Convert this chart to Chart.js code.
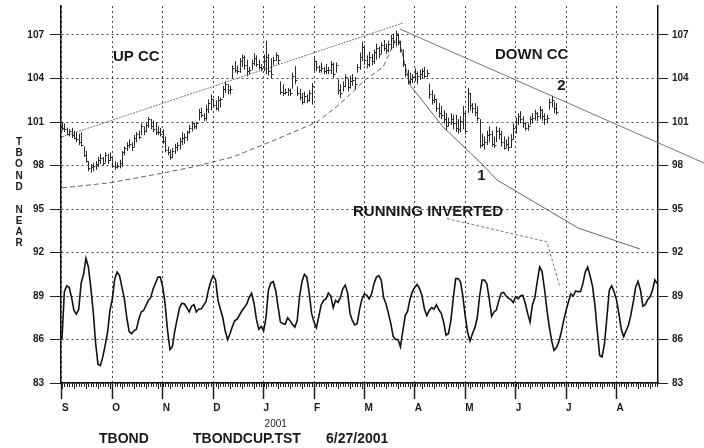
<!DOCTYPE html>
<html>
<head>
<meta charset="utf-8">
<title>TBOND</title>
<script src="https://cdn.jsdelivr.net/npm/chart.js@4.4.0/dist/chart.umd.min.js"></script>
<style>
    html, body { margin: 0; padding: 0; background: #fff; }
    #wrap { width: 704px; height: 448px; }
</style>
</head>
<body>
<div id="wrap"><canvas id="chartTbond" width="704" height="448"></canvas></div>
<script>
// AXIS DATA (x = trading day since start of Sep 2000)
var monthLabels = ["S", "O", "N", "D", "J", "F", "M", "A", "M", "J", "J", "A"];
var monthDays = [0, 21, 42, 63, 84, 105, 126, 147, 168, 189, 210, 231];
var priceTicks = [83, 86, 89, 92, 95, 98, 101, 104, 107];

// DAILY PRICE BARS (high / low / close)
var barHigh = [101.0, 100.9, 100.6, 100.5, 100.6, 100.4, 100.3, 100.2, 100.3, 99.3,
    99.0, 98.3, 98.1, 98.2, 98.3, 98.6, 98.8, 98.6, 98.9, 98.8,
    98.9, 98.5, 98.3, 98.2, 98.4, 99.0, 99.3, 99.6, 99.8, 99.6,
    100.1, 100.3, 100.4, 100.9, 100.7, 101.0, 101.35, 101.2, 101.1, 101.0,
    100.7, 100.6, 100.5, 100.0, 99.3, 99.1, 99.2, 99.5, 99.6, 99.9,
    100.3, 100.2, 100.4, 100.8, 101.05, 100.95, 101.0, 101.9, 102.0, 101.6,
    102.2, 102.55, 102.9, 102.6, 102.5, 102.8, 102.7, 103.5, 103.8, 103.6,
    103.5, 104.9, 105.2, 104.9, 105.4, 105.65, 105.6, 105.3, 104.8, 105.3,
    105.75, 105.6, 105.3, 105.0, 105.65, 106.6, 105.7, 105.4, 105.5, 105.8,
    105.6, 103.8, 103.6, 103.3, 103.35, 103.3, 104.4, 104.85, 103.45, 103.3,
    103.0, 103.1, 102.9, 103.2, 103.7, 105.4, 105.2, 104.9, 105.1, 104.8,
    105.0, 104.8, 105.2, 105.1, 105.1, 103.95, 103.6, 103.8, 104.3, 104.0,
    104.2, 104.3, 104.1, 105.0, 105.8, 106.55, 106.3, 105.6, 105.85, 105.7,
    106.0, 106.4, 106.2, 106.5, 106.65, 106.4, 106.6, 107.0, 107.1, 107.3,
    107.1, 106.6, 106.0, 105.0, 104.6, 104.4, 104.3, 104.7, 104.5, 104.6,
    104.7, 104.8, 104.6, 103.65, 103.2, 102.9, 102.6, 102.3, 102.1, 101.8,
    101.6, 101.3, 101.6, 101.5, 101.5, 101.2, 101.4, 102.1, 101.8, 103.35,
    103.0, 102.3, 102.3, 102.1, 101.2, 100.2, 100.0, 100.4, 100.7, 100.4,
    100.0, 100.7, 100.6, 100.4, 100.0, 99.8, 100.0, 100.15, 100.9, 101.3,
    101.6, 101.75, 101.4, 101.0, 100.9, 101.4, 101.6, 101.85, 101.7, 102.1,
    101.9, 101.6, 101.5, 102.6, 102.8, 102.4, 102.3];
var barLow = [100.4, 100.3, 100.1, 100.0, 99.9, 99.8, 99.6, 99.4, 99.3, 98.6,
    98.2, 97.6, 97.5, 97.6, 97.7, 97.9, 98.1, 98.0, 98.2, 98.1,
    98.3, 97.9, 97.7, 97.8, 97.8, 97.9, 98.7, 99.0, 99.2, 99.0,
    99.3, 99.6, 99.8, 100.1, 100.1, 100.3, 100.6, 100.5, 100.3, 100.1,
    100.1, 100.0, 99.5, 98.9, 98.7, 98.4, 98.5, 98.8, 99.0, 99.1,
    99.4, 99.5, 99.7, 100.2, 100.35, 100.5, 100.5, 101.1, 101.3, 101.05,
    101.1, 101.6, 101.8, 102.0, 101.8, 101.75, 102.0, 102.65, 103.0, 102.9,
    102.9, 104.0, 104.4, 104.3, 104.4, 104.8, 104.6, 104.15, 104.3, 104.6,
    104.9, 104.8, 104.6, 104.5, 104.5, 104.3, 104.2, 104.0, 104.9, 105.2,
    105.0, 102.9, 102.8, 102.9, 102.8, 102.8, 103.3, 103.6, 102.8, 102.5,
    102.2, 102.3, 102.3, 102.4, 102.2, 104.4, 104.5, 104.4, 104.4, 104.3,
    104.3, 104.3, 104.3, 104.05, 104.4, 102.9, 102.65, 103.1, 103.4, 103.1,
    103.3, 103.5, 103.25, 104.4, 104.6, 105.2, 104.95, 104.7, 104.8, 104.9,
    105.0, 105.3, 105.4, 105.7, 105.9, 105.7, 105.8, 106.0, 106.1, 106.2,
    106.3, 105.8, 104.8, 104.1, 103.6, 103.6, 103.7, 103.8, 103.6, 103.9,
    104.0, 104.0, 104.1, 102.6, 102.2, 102.3, 101.7, 101.3, 101.2, 100.9,
    100.45, 100.7, 100.8, 100.5, 100.3, 100.2, 100.3, 100.5, 100.15, 101.6,
    101.8, 101.6, 101.4, 101.05, 99.2, 99.3, 99.1, 99.4, 99.6, 99.3,
    99.2, 99.6, 99.8, 99.3, 99.1, 99.2, 99.0, 99.2, 99.8, 100.2,
    100.8, 100.9, 100.6, 100.4, 100.4, 100.8, 100.9, 101.1, 101.05, 101.2,
    101.1, 100.8, 100.9, 101.85, 102.0, 101.6, 101.5];
var barClose = [100.6, 100.5, 100.2, 100.4, 100.1, 99.9, 99.8, 99.6, 99.4, 98.7,
    98.3, 97.8, 97.9, 98.0, 98.1, 98.4, 98.5, 98.2, 98.7, 98.4,
    98.6, 98.0, 97.9, 98.0, 98.2, 98.9, 99.2, 99.4, 99.5, 99.3,
    99.9, 100.2, 100.0, 100.7, 100.4, 100.8, 101.2, 100.7, 100.5, 100.3,
    100.3, 100.2, 99.7, 99.1, 98.9, 98.6, 99.0, 99.3, 99.4, 99.7,
    99.9, 100.0, 100.3, 100.6, 100.9, 100.7, 100.9, 101.7, 101.5, 101.3,
    101.9, 102.3, 102.6, 102.2, 102.0, 102.5, 102.6, 103.3, 103.6, 103.2,
    103.3, 104.7, 104.6, 104.5, 105.2, 105.5, 104.9, 104.5, 104.6, 105.1,
    105.4, 105.0, 104.8, 104.7, 105.2, 105.5, 104.5, 104.3, 105.3, 105.6,
    105.3, 103.1, 103.0, 103.1, 103.2, 103.0, 104.2, 103.9, 103.0, 102.7,
    102.4, 102.8, 102.5, 103.0, 103.5, 105.2, 104.8, 104.6, 104.7, 104.5,
    104.6, 104.6, 105.0, 104.3, 104.9, 103.2, 103.0, 103.5, 104.1, 103.4,
    103.8, 103.9, 103.6, 104.8, 105.5, 106.2, 105.3, 105.0, 105.5, 105.2,
    105.8, 106.1, 105.7, 106.3, 106.1, 106.0, 106.4, 106.8, 106.5, 107.0,
    106.5, 106.0, 105.0, 104.3, 103.8, 104.0, 104.1, 104.4, 104.2, 104.3,
    104.5, 104.2, 104.4, 102.9, 102.5, 102.6, 102.0, 101.6, 101.5, 101.2,
    100.7, 101.0, 101.2, 100.9, 100.6, 100.5, 101.1, 101.6, 100.4, 103.0,
    102.2, 102.0, 101.7, 101.3, 99.4, 99.5, 99.6, 100.1, 100.2, 99.5,
    99.4, 100.4, 100.2, 99.6, 99.2, 99.5, 99.3, 99.8, 100.6, 101.0,
    101.4, 101.2, 100.9, 100.6, 100.7, 101.2, 101.3, 101.6, 101.4, 101.8,
    101.4, 101.2, 101.3, 102.4, 102.5, 102.0, 101.7];

// OSCILLATOR (one value per trading day, runs to the right edge)
var oscValues = [86.0, 89.3, 89.7, 89.6, 88.9, 88.0, 87.75, 88.1, 89.9, 90.5,
    91.6, 91.0, 89.6, 88.0, 85.8, 84.3, 84.2, 84.8, 85.6, 86.5,
    88.0, 88.8, 90.2, 90.65, 90.4, 89.6, 88.8, 87.5, 86.55, 86.4,
    86.6, 86.7, 87.4, 87.9, 88.0, 88.35, 88.7, 88.9, 89.5, 89.9,
    90.3, 90.3, 89.6, 88.4, 86.6, 85.3, 85.5, 86.6, 87.4, 88.2,
    88.5, 88.45, 88.2, 87.9, 88.3, 88.4, 87.9, 88.1, 88.1, 88.35,
    88.6, 89.4, 90.0, 90.4, 90.1, 88.7, 88.1, 87.5, 86.6, 86.0,
    86.4, 86.9, 87.3, 87.4, 87.7, 88.0, 88.2, 88.45, 88.9, 89.2,
    88.5, 87.4, 86.7, 86.9, 86.6, 87.5, 89.4, 89.9, 90.0, 89.4,
    88.3, 87.2, 87.1, 87.05, 87.5, 87.3, 87.05, 86.85, 87.3, 89.0,
    90.0, 90.5, 90.3, 89.2, 87.8, 87.2, 86.8, 87.6, 88.4, 88.7,
    88.8, 89.2, 89.0, 88.2, 88.7, 88.55, 88.9, 89.5, 89.75, 89.2,
    87.8, 87.3, 87.0, 87.1, 88.1, 88.8, 89.15, 89.05, 88.8, 89.15,
    89.85, 90.3, 90.4, 90.1, 88.9, 88.45, 87.8, 87.1, 86.2, 86.0,
    86.0, 85.5, 86.6, 87.65, 87.95, 88.8, 89.3, 89.6, 89.8, 89.5,
    89.0, 88.1, 87.65, 88.0, 88.2, 88.1, 88.4, 88.05, 87.8, 87.2,
    86.3, 86.4, 87.3, 88.8, 90.2, 90.2, 90.0, 89.0, 87.6, 86.5,
    85.9, 86.4, 86.8, 87.5, 89.0, 90.1, 90.1, 89.85, 88.8, 87.6,
    87.9, 88.05, 88.7, 89.2, 89.25, 89.0, 88.85, 88.75, 88.55, 88.95,
    88.8, 89.0, 89.05, 88.5, 87.8, 87.2, 88.4, 88.9, 90.0, 91.0,
    90.7, 89.5, 88.1, 86.9, 85.9, 85.25, 85.45, 85.85, 86.5, 87.3,
    88.0, 88.6, 89.15, 89.0, 89.35, 89.3, 89.3, 89.85, 90.65, 91.0,
    90.4, 89.7, 88.4, 86.6, 84.9, 84.8, 85.7, 87.5, 89.4, 89.7,
    89.3, 88.75, 87.8, 86.7, 86.2, 86.6, 87.0, 87.7, 88.6, 89.6,
    90.0, 89.4, 88.3, 88.4, 88.75, 88.95, 89.4, 90.1, 89.85];

// TREND CURVES as [day, price]
var upCcTop = [[0, 99.97], [142.1, 107.83]];
var upCcBottom = [[0, 96.45], [20, 96.81], [42.1, 97.48], [54.6, 97.9], [71.25, 98.59], [87.9, 99.71],
    [106.25, 101.0], [115.8, 102.24], [126.25, 103.9], [133.75, 104.79], [137.5, 106.1], [140, 107.14]];
var downCcTop = [[140.8, 107.41], [267.5, 98.17]];
var downCcBottom = [[140.4, 106.66], [145, 103.55], [158.75, 100.66], [175.4, 98.03], [181.25, 97.0],
    [215, 93.69], [240.8, 92.24]];
var runningPointer = [[160.4, 94.34], [202, 92.74], [207.5, 89.6]];

// TEXT NOTES as [text, day, price]
var notes = [["UP CC", 21.25, 105.5], ["DOWN CC", 180.4, 105.6], ["2", 206.3, 103.5],
    ["1", 173, 97.3], ["RUNNING INVERTED", 121.25, 94.8]];

var FONT = "'Liberation Sans', Arial, Helvetica, sans-serif";

function toPoints(pairs) {
    return pairs.map(function(p) { return { x: p[0], y: p[1] }; });
}

function trendSet(pairs, color, dash) {
    return {
        type: 'line',
        data: toPoints(pairs),
        borderColor: color,
        borderWidth: 1,
        borderDash: dash,
        pointRadius: 0,
        tension: 0,
        clip: false
    };
}

function noPadding(scale) {
    scale.paddingTop = 0;
    scale.paddingBottom = 0;
    scale.paddingLeft = 0;
    scale.paddingRight = 0;
}

// HIGH-LOW-CLOSE BARS
var priceBarsPlugin = {
    id: 'priceBars',
    afterDatasetsDraw: function(chart) {
        var ctx = chart.ctx;
        var xs = chart.scales.x;
        var ys = chart.scales.y;
        ctx.save();
        ctx.strokeStyle = '#2a2a2a';
        ctx.lineWidth = 1;
        for (var i = 0; i < barHigh.length; i++) {
            var x = Math.round(xs.getPixelForValue(i)) + 0.5;
            var yH = ys.getPixelForValue(barHigh[i]);
            var yL = ys.getPixelForValue(barLow[i]);
            var yC = Math.round(ys.getPixelForValue(barClose[i])) + 0.5;
            ctx.beginPath();
            ctx.moveTo(x, yH);
            ctx.lineTo(x, yL);
            ctx.moveTo(x, yC);
            ctx.lineTo(x + 2, yC);
            ctx.stroke();
        }
        ctx.restore();
    }
};

// DAILY MINOR TICKS + ALL TEXT
var decorPlugin = {
    id: 'decor',
    afterDraw: function(chart) {
        var ctx = chart.ctx;
        var xs = chart.scales.x;
        var ys = chart.scales.y;
        var bottom = chart.chartArea.bottom;
        ctx.save();

        ctx.strokeStyle = '#222';
        ctx.lineWidth = 1;
        for (var d = 0; d <= oscValues.length - 1; d++) {
            var x = Math.round(xs.getPixelForValue(d)) + 0.5;
            ctx.beginPath();
            ctx.moveTo(x, bottom);
            ctx.lineTo(x, bottom + (d % 5 === 0 ? 6 : 4));
            ctx.stroke();
        }

        ctx.fillStyle = '#1a1a1a';
        ctx.textBaseline = 'middle';
        ctx.textAlign = 'left';
        ctx.font = 'bold 15px ' + FONT;
        for (var n = 0; n < notes.length; n++) {
            ctx.fillText(notes[n][0], xs.getPixelForValue(notes[n][1]), ys.getPixelForValue(notes[n][2]));
        }

        // STACKED Y TITLE
        var title = "TBOND NEAR";
        ctx.font = 'bold 10px ' + FONT;
        ctx.textAlign = 'center';
        for (var c = 0; c < title.length; c++) {
            ctx.fillText(title[c], 19, 142 + c * 11.3);
        }

        ctx.textAlign = 'left';
        ctx.textBaseline = 'alphabetic';
        ctx.font = '10px ' + FONT;
        ctx.fillText("2001", xs.getPixelForValue(84) + 1, 427);

        ctx.font = 'bold 14px ' + FONT;
        ctx.fillText("TBOND", 99, 443);
        ctx.fillText("TBONDCUP.TST", 193, 443);
        ctx.fillText("6/27/2001", 326, 443);
        ctx.restore();
    }
};

var ctx = document.getElementById("chartTbond").getContext('2d');
var tbondChart = new Chart(ctx, {
    type: 'line',
    data: {
        datasets: [
            {
                data: oscValues.map(function(v, i) { return { x: i, y: v }; }),
                borderColor: '#111',
                borderWidth: 1.6,
                pointRadius: 0,
                tension: 0
            },
            trendSet(upCcTop, '#777', [2, 1]),
            trendSet(upCcBottom, '#666', [5, 3]),
            trendSet(downCcTop, '#777', []),
            trendSet(downCcBottom, '#666', []),
            trendSet(runningPointer, '#777', [3, 2])
        ]
    },
    options: {
        responsive: false,
        animation: false,
        devicePixelRatio: 1,
        events: [],
        layout: { padding: { top: 6, left: 0, right: 0, bottom: 0 } },
        plugins: {
            legend: { display: false },
            tooltip: { enabled: false }
        },
        scales: {
            x: {
                type: 'linear',
                position: 'bottom',
                min: -0.4,
                max: 248.3,
                afterBuildTicks: function(scale) {
                    scale.ticks = monthDays.map(function(v) { return { value: v }; });
                },
                afterFit: function(scale) { scale.height = 65; noPadding(scale); },
                ticks: {
                    autoSkip: false,
                    maxRotation: 0,
                    align: 'start',
                    padding: 3,
                    color: '#1a1a1a',
                    font: { family: FONT, size: 10, weight: 'bold' },
                    callback: function(value) { return monthLabels[monthDays.indexOf(value)]; }
                },
                grid: {
                    color: '#444',
                    lineWidth: 1,
                    tickLength: 16,
                    tickWidth: 1.5,
                    tickColor: '#222',
                    tickBorderDash: []
                },
                border: { display: true, color: '#111', width: 1.5, dash: [2, 3] }
            },
            y: {
                position: 'left',
                min: 83,
                max: 109,
                afterBuildTicks: function(scale) {
                    scale.ticks = priceTicks.map(function(v) { return { value: v }; });
                },
                afterFit: function(scale) { scale.width = 61; noPadding(scale); },
                ticks: {
                    padding: 6,
                    color: '#1a1a1a',
                    font: { family: FONT, size: 10, weight: 'bold' }
                },
                grid: {
                    color: '#444',
                    lineWidth: 1,
                    tickLength: 11,
                    tickColor: '#222',
                    tickBorderDash: []
                },
                border: { display: true, color: '#111', width: 1.5, dash: [2, 3] }
            },
            y2: {
                position: 'right',
                min: 83,
                max: 109,
                afterBuildTicks: function(scale) {
                    scale.ticks = priceTicks.map(function(v) { return { value: v }; });
                },
                afterFit: function(scale) { scale.width = 46; noPadding(scale); },
                ticks: {
                    padding: 4,
                    color: '#1a1a1a',
                    font: { family: FONT, size: 10, weight: 'bold' }
                },
                grid: {
                    drawOnChartArea: false,
                    tickLength: 10,
                    tickColor: '#222'
                },
                border: { display: true, color: '#111', width: 1.5 }
            }
        }
    },
    plugins: [priceBarsPlugin, decorPlugin]
});
</script>
</body>
</html>
